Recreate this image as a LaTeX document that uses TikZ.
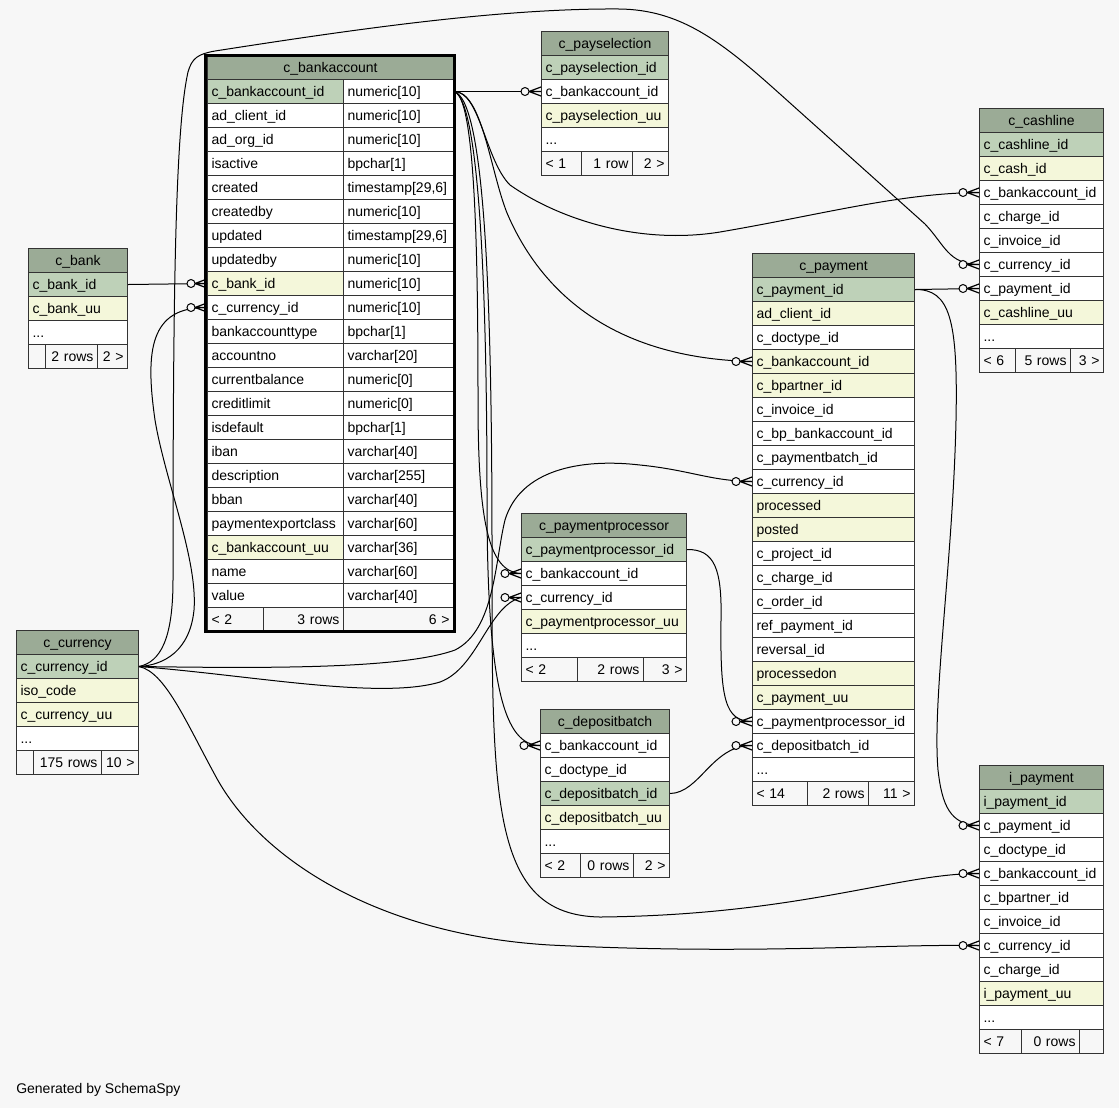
\documentclass[tikz,border=0pt]{standalone}
\usepackage{fontspec}
\setmainfont{Liberation Sans}
\newdimen\px \px=0.75pt
\newcommand{\etcdots}{...}
\definecolor{bgc}{HTML}{F7F7F7}
\definecolor{hdrc}{HTML}{9BAB96}
\definecolor{pkc}{HTML}{BED1B8}
\definecolor{ixc}{HTML}{F4F7DA}
\definecolor{tline}{HTML}{333333}
\tikzset{
  cell/.style={draw=tline, line width=1\px, fill=white, anchor=north west, minimum height=24\px,
    inner xsep=4\px, inner ysep=0pt, text height=11\px, text depth=2\px, align=left},
  hdr/.style={cell, fill=hdrc, align=center},
  foot/.style={cell, fill=none},
  footr/.style={foot, align=right},
  rel/.style={line width=1\px},
  crowo/.pic={
    \draw[line width=1\px, fill=bgc] (-16,0) circle[radius=4\px];
    \draw[line width=1.2\px] (-12,0) -- (0,-4.5) (-12,0) -- (0,0) (-12,0) -- (0,4.5);
  }
}
\begin{document}
\begin{tikzpicture}[x=0.75pt, y=-0.75pt, font=\fontsize{10.5}{12.6}\selectfont]
  \useasboundingbox[fill=bgc] (0,0) rectangle (1119,1108);

  % c_bank
  \node[hdr, text width=91\px] (bank) at (28,248) {c\_bank};
  \foreach \nm/\txt/\col [count=\i] in {id/c\_bank\_id/pkc, uu/c\_bank\_uu/ixc, etc/\etcdots/white}
    \node[cell, fill=\col, text width=91\px] (bank-\nm) at (28,248+24*\i) {\txt};
  \node[foot, text width=9\px] (bank-f1) at (28,344) {};
  \node[footr, text width=44\px] (bank-f2) at (45,344) {2 rows};
  \node[footr, text width=22\px] (bank-f3) at (97,344) {2 >};

  % c_bankaccount
  \node[hdr, text width=238\px] (ba) at (207,55) {c\_bankaccount};
  \foreach \nm/\txt/\col/\typ [count=\i] in {id/c\_bankaccount\_id/pkc/numeric[10],
      client/ad\_client\_id/white/numeric[10], org/ad\_org\_id/white/numeric[10],
      active/isactive/white/bpchar[1], created/created/white/{timestamp[29,6]},
      createdby/createdby/white/numeric[10], updated/updated/white/{timestamp[29,6]},
      updatedby/updatedby/white/numeric[10], bank/c\_bank\_id/ixc/numeric[10],
      cur/c\_currency\_id/white/numeric[10], type/bankaccounttype/white/bpchar[1],
      no/accountno/white/varchar[20], balance/currentbalance/white/numeric[0],
      limit/creditlimit/white/numeric[0], default/isdefault/white/bpchar[1],
      iban/iban/white/varchar[40], descr/description/white/varchar[255],
      bban/bban/white/varchar[40], export/paymentexportclass/white/varchar[60],
      uu/c\_bankaccount\_uu/ixc/varchar[36], name/name/white/varchar[60],
      value/value/white/varchar[40]}
  {
    \node[cell, fill=\col, text width=128\px] (ba-\nm) at (207,55+24*\i) {\txt};
    \node[cell, text width=102\px] (ba-\nm-t) at (343,55+24*\i) {\typ};
  }
  \node[foot, text width=48\px] (ba-f1) at (207,607) {< 2};
  \node[footr, text width=72\px] (ba-f2) at (263,607) {3 rows};
  \node[footr, text width=102\px] (ba-f3) at (343,607) {6 >};
  \draw[line width=3\px] (205.5,55) rectangle (454.5,631.5);

  % c_payselection
  \node[hdr, text width=119\px] (psel) at (541,31) {c\_payselection};
  \foreach \nm/\txt/\col [count=\i] in {id/c\_payselection\_id/pkc, ba/c\_bankaccount\_id/white,
      uu/c\_payselection\_uu/ixc, etc/\etcdots/white}
    \node[cell, fill=\col, text width=119\px] (psel-\nm) at (541,31+24*\i) {\txt};
  \node[foot, text width=32\px] (psel-f1) at (541,151) {< 1};
  \node[footr, text width=43\px] (psel-f2) at (581,151) {1 row};
  \node[footr, text width=28\px] (psel-f3) at (632,151) {2 >};

  % c_cashline
  \node[hdr, text width=116\px] (cash) at (979,108) {c\_cashline};
  \foreach \nm/\txt/\col [count=\i] in {id/c\_cashline\_id/pkc, cash/c\_cash\_id/ixc,
      ba/c\_bankaccount\_id/white, charge/c\_charge\_id/white, inv/c\_invoice\_id/white,
      cur/c\_currency\_id/white, pay/c\_payment\_id/white, uu/c\_cashline\_uu/ixc, etc/\etcdots/white}
    \node[cell, fill=\col, text width=116\px] (cash-\nm) at (979,108+24*\i) {\txt};
  \node[foot, text width=28\px] (cash-f1) at (979,348) {< 6};
  \node[footr, text width=47\px] (cash-f2) at (1015,348) {5 rows};
  \node[footr, text width=25\px] (cash-f3) at (1070,348) {3 >};

  % c_payment
  \node[hdr, text width=154\px] (pay) at (752,253) {c\_payment};
  \foreach \nm/\txt/\col [count=\i] in {id/c\_payment\_id/pkc, client/ad\_client\_id/ixc,
      doctype/c\_doctype\_id/white, ba/c\_bankaccount\_id/ixc, bp/c\_bpartner\_id/ixc,
      inv/c\_invoice\_id/white, bpba/c\_bp\_bankaccount\_id/white, batch/c\_paymentbatch\_id/white,
      cur/c\_currency\_id/white, processed/processed/ixc, posted/posted/ixc,
      project/c\_project\_id/white, charge/c\_charge\_id/white, order/c\_order\_id/white,
      ref/ref\_payment\_id/white, rev/reversal\_id/white, pon/processedon/ixc,
      uu/c\_payment\_uu/ixc, pp/c\_paymentprocessor\_id/white, db/c\_depositbatch\_id/white,
      etc/\etcdots/white}
    \node[cell, fill=\col, text width=154\px] (pay-\nm) at (752,253+24*\i) {\txt};
  \node[foot, text width=47\px] (pay-f1) at (752,781) {< 14};
  \node[footr, text width=53\px] (pay-f2) at (807,781) {2 rows};
  \node[footr, text width=38\px] (pay-f3) at (868,781) {11 >};

  % c_paymentprocessor
  \node[hdr, text width=157\px] (pp) at (521,513) {c\_paymentprocessor};
  \foreach \nm/\txt/\col [count=\i] in {id/c\_paymentprocessor\_id/pkc, ba/c\_bankaccount\_id/white,
      cur/c\_currency\_id/white, uu/c\_paymentprocessor\_uu/ixc, etc/\etcdots/white}
    \node[cell, fill=\col, text width=157\px] (pp-\nm) at (521,513+24*\i) {\txt};
  \node[foot, text width=48\px] (pp-f1) at (521,657) {< 2};
  \node[footr, text width=58\px] (pp-f2) at (577,657) {2 rows};
  \node[footr, text width=35\px] (pp-f3) at (643,657) {3 >};

  % c_depositbatch
  \node[hdr, text width=121\px] (db) at (540,709) {c\_depositbatch};
  \foreach \nm/\txt/\col [count=\i] in {ba/c\_bankaccount\_id/white, doctype/c\_doctype\_id/white,
      id/c\_depositbatch\_id/pkc, uu/c\_depositbatch\_uu/ixc, etc/\etcdots/white}
    \node[cell, fill=\col, text width=121\px] (db-\nm) at (540,709+24*\i) {\txt};
  \node[foot, text width=32\px] (db-f1) at (540,853) {< 2};
  \node[footr, text width=45\px] (db-f2) at (580,853) {0 rows};
  \node[footr, text width=28\px] (db-f3) at (633,853) {2 >};

  % c_currency
  \node[hdr, text width=114\px] (cur) at (16,630) {c\_currency};
  \foreach \nm/\txt/\col [count=\i] in {id/c\_currency\_id/pkc, iso/iso\_code/ixc,
      uu/c\_currency\_uu/ixc, etc/\etcdots/white}
    \node[cell, fill=\col, text width=114\px] (cur-\nm) at (16,630+24*\i) {\txt};
  \node[foot, text width=9\px] (cur-f1) at (16,750) {};
  \node[footr, text width=60\px] (cur-f2) at (33,750) {175 rows};
  \node[footr, text width=29\px] (cur-f3) at (101,750) {10 >};

  % i_payment
  \node[hdr, text width=116\px] (ipay) at (979,765) {i\_payment};
  \foreach \nm/\txt/\col [count=\i] in {id/i\_payment\_id/pkc, pay/c\_payment\_id/white,
      doctype/c\_doctype\_id/white, ba/c\_bankaccount\_id/white, bp/c\_bpartner\_id/white,
      inv/c\_invoice\_id/white, cur/c\_currency\_id/white, charge/c\_charge\_id/white,
      uu/i\_payment\_uu/ixc, etc/\etcdots/white}
    \node[cell, fill=\col, text width=116\px] (ipay-\nm) at (979,765+24*\i) {\txt};
  \node[foot, text width=34\px] (ipay-f1) at (979,1029) {< 7};
  \node[footr, text width=50\px] (ipay-f2) at (1021,1029) {0 rows};
  \node[footr, text width=16\px] (ipay-f3) at (1079,1029) {};

  % relations
  \draw[rel] (bank-id.east) -- (ba-bank.west);
  \draw[rel] (cur-id.east) .. controls (165,665) and (190,650) .. (194,610)
    .. controls (198,560) and (165,480) .. (155,420)
    .. controls (145,350) and (150,307) .. (ba-cur.west);
  \draw[rel] (cur-id.east) .. controls (160,662) and (173,640) .. (173,580)
    .. controls (173,300) and (175,130) .. (188,72)
    .. controls (192,58) and (198,54) .. (215,51)
    .. controls (350,30) and (500,8) .. (620,9)
    .. controls (680,10) and (720,40) .. (780,94)
    -- (925,224)
    .. controls (945,245) and (948,264) .. (cash-cur.west);
  \draw[rel] (cur-id.east) .. controls (250,668) and (400,670) .. (455,650)
    .. controls (495,630) and (495,560) .. (505,520)
    .. controls (520,470) and (580,458) .. (640,465)
    .. controls (690,470) and (710,481) .. (pay-cur.west);
  \draw[rel] (cur-id.east) .. controls (250,675) and (380,700) .. (440,682)
    .. controls (478,668) and (488,606) .. (pp-cur.west);
  \draw[rel] (cur-id.east) .. controls (165,672) and (185,720) .. (215,775)
    .. controls (260,860) and (380,935) .. (550,945)
    .. controls (750,955) and (880,944) .. (ipay-cur.west);
  \draw[rel] (ba-id-t.east) -- (psel-ba.west);
  \draw[rel] (ba-id-t.east) .. controls (480,91) and (485,160) .. (510,185)
    .. controls (560,220) and (640,245) .. (720,232)
    .. controls (820,215) and (900,193) .. (cash-ba.west);
  \draw[rel] (ba-id-t.east) .. controls (482,91) and (490,170) .. (507,213)
    .. controls (540,290) and (610,358) .. (pay-ba.west);
  \draw[rel] (ba-id-t.east) .. controls (475,95) and (478,250) .. (478,400)
    .. controls (478,520) and (488,572) .. (pp-ba.west);
  \draw[rel] (ba-id-t.east) .. controls (480,100) and (487,300) .. (487,500)
    .. controls (487,690) and (505,745) .. (db-ba.west);
  \draw[rel] (ba-id-t.east) .. controls (485,100) and (492,300) .. (492,550)
    .. controls (492,800) and (490,915) .. (600,917)
    .. controls (800,915) and (900,873) .. (ipay-ba.west);
  \draw[rel] (pay-id.east) -- (cash-pay.west);
  \draw[rel] (pay-id.east) .. controls (950,289) and (958,320) .. (956,420)
    .. controls (953,560) and (932,700) .. (938,770)
    .. controls (942,805) and (950,825) .. (ipay-pay.west);
  \draw[rel] (pp-id.east) .. controls (715,549) and (722,570) .. (721,620)
    .. controls (720,700) and (725,721) .. (pay-pp.west);
  \draw[rel] (db-id.east) .. controls (700,793) and (712,745) .. (pay-db.west);

  \foreach \e in {ba-bank, ba-cur, psel-ba, cash-ba, cash-cur, cash-pay, pay-ba, pay-cur,
      pay-pp, pay-db, pp-ba, pp-cur, db-ba, ipay-pay, ipay-ba, ipay-cur}
    \pic at (\e.west) {crowo};

  \node[anchor=base west, inner sep=0pt] (gen) at (16,1093) {Generated by SchemaSpy};
\end{tikzpicture}
\end{document}
